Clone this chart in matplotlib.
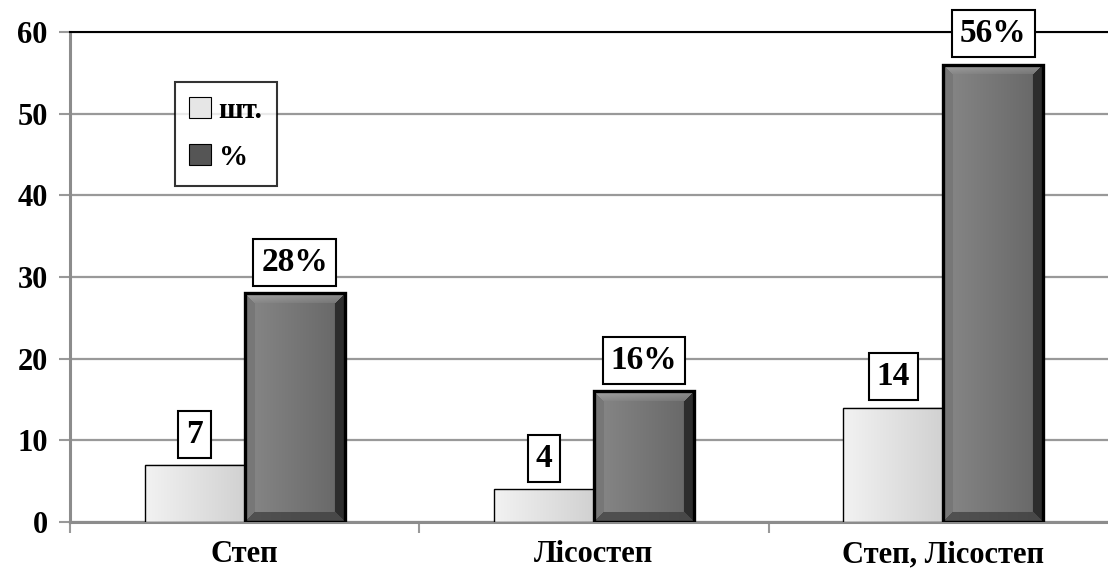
import numpy as np
import matplotlib
matplotlib.use("Agg")
import matplotlib.pyplot as plt
from matplotlib.patches import Patch, Rectangle

plt.rcParams['font.family'] = ['Liberation Serif', 'DejaVu Serif']
plt.rcParams['font.weight'] = 'bold'

categories = ["Степ", "Лісостеп", "Степ, Лісостеп"]
counts = [7, 4, 14]
percents = [28, 16, 56]
count_labels = ["7", "4", "14"]
percent_labels = ["28%", "16%", "56%"]
series_names = ["шт.", "%"]
yticks = [0, 10, 20, 30, 40, 50, 60]

W, H = 1108, 577
fig = plt.figure(figsize=(W / 100, H / 100), dpi=100)
ax = fig.add_axes([70 / W, 55 / H, 1048 / W, 490 / H])
ax.set_xlim(-0.5, 2.5)
ax.set_ylim(0, 60)

bar_w = 0.286
x = np.arange(len(categories))


def light_img(nx, ny):
    t = np.linspace(0, 1, nx)
    row = 0.95 - 0.13 * t
    img = np.tile(row, (ny, 1))
    return np.dstack([img, img, img])


def dark_img(nx, ny, bev=10):
    t = np.linspace(0, 1, nx)
    row = 0.53 - 0.13 * t
    k = int(nx * 0.12)
    row[-k:] -= np.linspace(0, 0.22, k)
    img = np.tile(row, (ny, 1))
    yy, xx = np.mgrid[0:ny, 0:nx]
    d_top = yy
    d_bot = ny - 1 - yy
    d_left = xx
    d_right = nx - 1 - xx
    dmin = np.minimum.reduce([d_top, d_bot, d_left, d_right])
    m = dmin < bev
    top = m & (d_top == dmin)
    bot = m & (d_bot == dmin) & ~top
    left = m & (d_left == dmin) & ~top & ~bot
    right = m & (d_right == dmin) & ~top & ~bot & ~left
    img = img.copy()
    img[top] = 0.64 - 0.011 * d_top[top] - 0.08 * (xx[top] / nx)
    img[bot] = 0.32 - 0.04 * (xx[bot] / nx)
    img[left] = 0.47
    img[right] = 0.18
    img = np.clip(img, 0, 1)
    return np.dstack([img, img, img])


fig.canvas.draw()
to_px = ax.transData


def draw_bar(xc, h, kind):
    x0, x1 = xc - bar_w / 2, xc + bar_w / 2
    p0 = to_px.transform((x0, 0))
    p1 = to_px.transform((x1, h))
    nx = max(int(round(p1[0] - p0[0])), 2)
    ny = max(int(round(p1[1] - p0[1])), 2)
    if kind == 'light':
        img = light_img(nx, ny)
        lw = 1.0
    else:
        img = dark_img(nx, ny)
        lw = 2.4
    ax.imshow(img, extent=(x0, x1, 0, h), aspect='auto', zorder=3,
              interpolation='bilinear')
    ax.add_patch(Rectangle((x0, 0), bar_w, h, fill=False, edgecolor='black',
                           linewidth=lw, zorder=4))


box = dict(boxstyle='square,pad=0.24', facecolor='white', edgecolor='black',
           linewidth=1.5)
for i in range(len(categories)):
    xl = x[i] - bar_w / 2
    xd = x[i] + bar_w / 2
    draw_bar(xl, counts[i], 'light')
    draw_bar(xd, percents[i], 'dark')
    ax.annotate(count_labels[i], (xl, counts[i]), xytext=(0, 11),
                textcoords='offset points', ha='center', va='bottom',
                fontsize=24, fontweight='bold', bbox=box, zorder=6,
                annotation_clip=False)
    ax.annotate(percent_labels[i], (xd, percents[i]), xytext=(0, 11),
                textcoords='offset points', ha='center', va='bottom',
                fontsize=24, fontweight='bold', bbox=box, zorder=6,
                annotation_clip=False)

ax.set_xlim(-0.5, 2.5)
ax.set_ylim(0, 60)

ax.set_yticks(yticks)
ax.set_yticklabels([str(v) for v in yticks], fontsize=22, fontweight='bold')
ax.yaxis.grid(True, color='#999999', linewidth=1.6, zorder=0)
ax.set_axisbelow(True)
ax.tick_params(axis='y', length=8, width=1.5, color='#999999', pad=8)

ax.set_xticks(x)
ax.set_xticklabels(categories, fontsize=22, fontweight='bold')
ax.set_xticks([-0.5, 0.5, 1.5], minor=True)
ax.tick_params(axis='x', which='major', length=0, pad=13)
ax.tick_params(axis='x', which='minor', length=8, width=1.5, color='#999999')

for s in ['left', 'bottom']:
    ax.spines[s].set_color('#8c8c8c')
    ax.spines[s].set_linewidth(2.2)
ax.spines['top'].set_color('black')
ax.spines['top'].set_linewidth(1.5)
ax.spines['right'].set_visible(False)

handles = [Patch(facecolor='#e6e6e6', edgecolor='black', linewidth=0.8),
           Patch(facecolor='#555555', edgecolor='black', linewidth=0.8)]
leg = ax.legend(handles, series_names, loc='upper left',
                bbox_to_anchor=(0.1, 0.898), frameon=True, fancybox=False,
                prop={'size': 21, 'weight': 'bold'}, handlelength=0.75,
                handleheight=0.75, handletextpad=0.25, labelspacing=0.7,
                borderpad=0.5, borderaxespad=0)
leg.get_frame().set_edgecolor('black')
leg.get_frame().set_linewidth(1.5)
leg.set_zorder(7)

fig.savefig('out.png', dpi=100)
